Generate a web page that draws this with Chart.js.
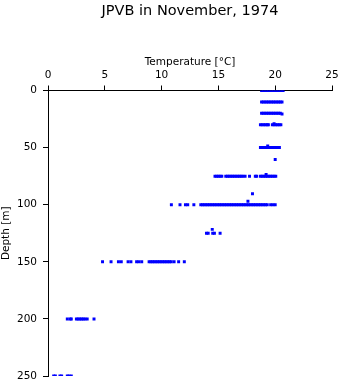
<!DOCTYPE html>
<html>
<head>
<meta charset="utf-8">
<title>JPVB in November, 1974</title>
<script src="https://cdn.jsdelivr.net/npm/chart.js@4"></script>
<style>
  html, body { margin: 0; padding: 0; background: #fff; }
  canvas { display: block; }
</style>
</head>
<body>
<canvas id="profileChart" width="341" height="384"></canvas>
<script>
// Temperature readings (deg C) at each sampling depth (m)
const temp0m = [18.8, 18.95, 19.1, 19.25, 19.4, 19.55, 19.7, 19.85, 20.0, 20.15, 20.3, 20.45, 20.6, 20.7];
const temp10m = [18.8, 18.95, 19.1, 19.25, 19.4, 19.55, 19.7, 19.85, 20.0, 20.15, 20.3, 20.45, 20.6];
const temp20m = [18.8, 18.95, 19.1, 19.25, 19.4, 19.55, 19.7, 19.85, 20.0, 20.15, 20.3, 20.45];
const temp30m = [18.7, 18.85, 19.0, 19.15, 19.3, 19.4, 19.75, 19.9, 20.05, 20.2, 20.35, 20.5];
const temp50m = [18.7, 18.85, 19.0, 19.15, 19.3, 19.45, 19.6, 19.75, 19.9, 20.05, 20.2, 20.37];
const temp75m = [14.7, 14.85, 15.0, 15.15, 15.3, 15.65, 15.8, 15.95, 16.1, 16.25, 16.4, 16.55, 16.7,
                 16.85, 17.0, 17.15, 17.35, 17.74, 18.25, 18.37, 18.7, 18.85, 19.0, 19.15, 19.3,
                 19.45, 19.6, 19.75, 19.9, 20.05];
const temp100m = [10.86, 11.62, 12.1, 12.3, 12.84, 13.45, 13.6, 13.75, 13.9, 14.05, 14.2, 14.35, 14.5,
                  14.65, 14.8, 14.95, 15.1, 15.25, 15.4, 15.55, 15.7, 15.85, 16.0, 16.15, 16.3, 16.45,
                  16.6, 16.75, 16.9, 17.05, 17.2, 17.35, 17.5, 17.65, 17.8, 17.95, 18.1, 18.25, 18.4,
                  18.55, 18.7, 18.85, 19.0, 19.15, 19.3, 19.6, 19.8, 20.0];
const temp125m = [13.95, 14.1, 14.5, 14.65, 15.15];
const temp150m = [4.8, 5.55, 6.2, 6.45, 7.05, 7.3, 7.8, 8.0, 8.25, 8.9, 9.05, 9.2, 9.35, 9.5, 9.65,
                  9.8, 9.95, 10.1, 10.25, 10.4, 10.55, 10.7, 10.85, 11.1, 11.5, 12.0];
const temp200m = [1.7, 1.95, 2.05, 2.5, 2.65, 2.8, 2.95, 3.1, 3.25, 3.45, 4.05];
const temp250m = [0.5, 0.65, 1.05, 1.2, 1.7, 1.85, 2.05];

// Odd readings between the main levels
const extraDepths = [20.5, 29, 48.5, 60.5, 73.5, 90.4, 97, 121.6];
const extraTemps = [20.6, 19.9, 19.34, 20.0, 19.2, 18.0, 17.6, 14.46];

const levelDepths = [0, 10, 20, 30, 50, 75, 100, 125, 150, 200, 250];
const levelTemps = [temp0m, temp10m, temp20m, temp30m, temp50m, temp75m, temp100m, temp125m,
                    temp150m, temp200m, temp250m];

const tempTicks = [0, 5, 10, 15, 20, 25];
const depthTicks = [0, 50, 100, 150, 200, 250];

const points = [];
levelDepths.forEach((depth, i) => {
    levelTemps[i].forEach(t => points.push({ x: t, y: depth }));
});
extraDepths.forEach((depth, i) => points.push({ x: extraTemps[i], y: depth }));

const FONT = "'DejaVu Sans', sans-serif";

const ctx = document.getElementById('profileChart').getContext('2d');
new Chart(ctx, {
    type: 'scatter',
    data: {
        datasets: [
            {
                data: points,
                pointStyle: 'rect',
                pointRadius: 2.1,
                pointBorderWidth: 0,
                backgroundColor: '#0000ff',
                borderColor: '#0000ff',
            },
        ],
    },
    options: {
        responsive: false,
        animation: false,
        devicePixelRatio: 1,
        layout: {
            padding: { left: 0, right: 9, top: 0, bottom: 8 },
        },
        plugins: {
            legend: { display: false },
            tooltip: { enabled: false },
            title: {
                display: true,
                text: 'JPVB in November, 1974',
                fullSize: false,
                color: '#000',
                font: { family: FONT, size: 14.5, weight: 'normal' },
                padding: { top: 3, bottom: 0 },
            },
        },
        scales: {
            x: {
                type: 'linear',
                position: 'top',
                min: tempTicks[0],
                max: tempTicks[tempTicks.length - 1],
                afterBuildTicks: (scale) => {
                    scale.ticks = tempTicks.map(v => ({ value: v }));
                },
                afterFit: (scale) => {
                    // fixed band above the plot; labels may hang past the ends
                    scale.height = 70.1;
                    scale.paddingLeft = 0;
                    scale.paddingRight = 0;
                },
                ticks: {
                    color: '#000',
                    font: { family: FONT, size: 10.5 },
                    padding: 3.5,
                    maxRotation: 0,
                },
                grid: {
                    drawOnChartArea: false,
                    tickLength: 5,
                    color: '#000',
                },
                border: { color: '#000', width: 1 },
                title: {
                    display: true,
                    text: 'Temperature [°C]',
                    color: '#000',
                    font: { family: FONT, size: 10.5 },
                    padding: { top: 35.5, bottom: 0 },
                },
            },
            y: {
                type: 'linear',
                reverse: true,
                min: depthTicks[0],
                max: depthTicks[depthTicks.length - 1],
                afterBuildTicks: (scale) => {
                    scale.ticks = depthTicks.map(v => ({ value: v }));
                },
                afterFit: (scale) => {
                    scale.width = 48;
                    scale.paddingTop = 0;
                    scale.paddingBottom = 0;
                },
                ticks: {
                    color: '#000',
                    font: { family: FONT, size: 10.5 },
                    padding: 6,
                },
                grid: {
                    drawOnChartArea: false,
                    tickLength: 5,
                    color: '#000',
                },
                border: { color: '#000', width: 1 },
                title: {
                    display: true,
                    text: 'Depth [m]',
                    color: '#000',
                    font: { family: FONT, size: 10.5 },
                    padding: { top: 0, bottom: 0 },
                },
            },
        },
    },
});
</script>
</body>
</html>
